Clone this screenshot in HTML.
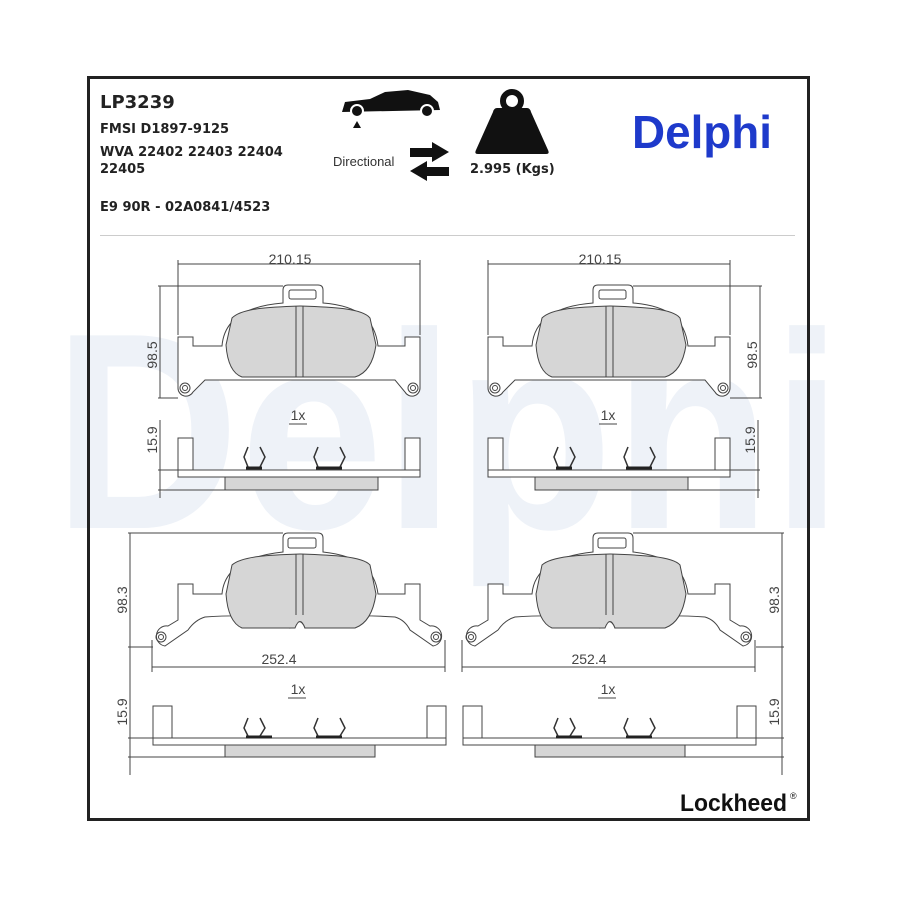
<!DOCTYPE html>
<html><head><meta charset="utf-8"><style>
body{margin:0;background:#fff;}
svg{display:block;font-family:"Liberation Sans",sans-serif;}
.t{font-family:"DejaVu Sans","Liberation Sans",sans-serif;font-weight:bold;fill:#222;}
.d{font-family:"Liberation Sans",sans-serif;font-size:14px;fill:#444;}
</style></head><body>
<svg width="900" height="900" viewBox="0 0 900 900">
<!-- watermark -->
<text x="448" y="528" text-anchor="middle" font-family="Liberation Sans" font-weight="bold" font-size="280" fill="#eef2f8" textLength="790" lengthAdjust="spacingAndGlyphs">Delphi</text>
<rect x="88.5" y="77.5" width="720" height="742" fill="none" stroke="#222" stroke-width="3"/>
<line x1="100" y1="235.5" x2="795" y2="235.5" stroke="#ccc"/>
<text x="100" y="108" class="t" font-size="18">LP3239</text>
<text x="100" y="133" class="t" font-size="13">FMSI D1897-9125</text>
<text x="100" y="156" class="t" font-size="13">WVA 22402 22403 22404</text>
<text x="100" y="173" class="t" font-size="13">22405</text>
<text x="100" y="211" class="t" font-size="13">E9 90R - 02A0841/4523</text>
<!-- car -->
<path d="M342,112 L345,102 L370,99 L385,92 L408,90 L430,95 L438,102 L440,110 L342,112Z" fill="#111"/>
<circle cx="357" cy="111" r="6" fill="#111" stroke="#fff" stroke-width="2"/>
<circle cx="427" cy="111" r="6" fill="#111" stroke="#fff" stroke-width="2"/>
<polygon points="357,121 353,128 361,128" fill="#111"/>
<text x="333" y="166" font-size="13" fill="#333">Directional</text>
<path d="M410,148 H432 V142 L449,152 L432,162 V157 H410Z" fill="#111"/>
<path d="M449,167 H427 V161 L410,171 L427,181 V176 H449Z" fill="#111"/>
<!-- weight -->
<circle cx="512" cy="101" r="9" fill="none" stroke="#111" stroke-width="6"/>
<path d="M497,108 H527 Q530,108 531,112 L548,150 Q550,154 546,154 H478 Q474,154 476,150 L493,112 Q494,108 497,108Z" fill="#111"/>
<text x="470" y="173" class="t" font-size="13">2.995 (Kgs)</text>
<text x="632" y="148" font-family="Liberation Sans" font-weight="bold" font-size="46" fill="#1e3acb" textLength="140" lengthAdjust="spacingAndGlyphs">Delphi</text>
<defs>
<g id="top">
<path d="M178,337 H193 V346 H222 C224,320 245,306 283,303 V290 Q283,285 288,285 H318 Q323,285 323,290 V303 C360,306 375,320 378,346 H405 V337 H420 V388 A8,8 0 0 1 405,392 L395,380 H205 L193,392 A8,8 0 0 1 178,388 Z" fill="#fff" stroke="#444"/>
<rect x="289" y="290" width="27" height="9" rx="2" fill="none" stroke="#444"/>
<path d="M232,318 C242,308 270,307 300,306 C330,307 362,308 370,318 L376,345 Q372,372 355,377 H242 Q228,372 226,345 Z" fill="#d6d6d6" stroke="#444"/>
<line x1="296" y1="306" x2="296" y2="377" stroke="#444"/><line x1="303" y1="306" x2="303" y2="377" stroke="#444"/>
<circle cx="185" cy="388" r="5" fill="none" stroke="#444"/><circle cx="185" cy="388" r="2.5" fill="none" stroke="#444"/>
<circle cx="413" cy="388" r="5" fill="none" stroke="#444"/><circle cx="413" cy="388" r="2.5" fill="none" stroke="#444"/>
<line x1="178" y1="264" x2="420" y2="264" stroke="#444"/>
<line x1="178" y1="260" x2="178" y2="335" stroke="#444"/><line x1="420" y1="260" x2="420" y2="335" stroke="#444"/>
<text x="290" y="264" class="d" text-anchor="middle">210.15</text>
<text x="298" y="420" class="d" text-anchor="middle" font-size="16">1x</text>
<line x1="289" y1="424" x2="307" y2="424" stroke="#444"/>
<rect x="178" y="438" width="15" height="32" fill="#fff" stroke="#444"/>
<rect x="405" y="438" width="15" height="32" fill="#fff" stroke="#444"/>
<rect x="178" y="470" width="242" height="7" fill="#fff" stroke="#444"/>
<rect x="225" y="477" width="153" height="13" fill="#d6d6d6" stroke="#444"/>
<path d="M248,447 L244,457 L248,467 M260,447 L265,457 L260,467 M318,447 L314,457 L318,467 M340,447 L345,457 L340,467" fill="none" stroke="#333" stroke-width="1.5"/>
<line x1="246" y1="468" x2="262" y2="468" stroke="#222" stroke-width="3"/><line x1="316" y1="468" x2="342" y2="468" stroke="#222" stroke-width="3"/>
</g>
<g id="bot">
<path d="M178,584 H193 V594 H222 C224,570 245,556 283,552 V538 Q283,533 288,533 H318 Q323,533 323,538 V552 C360,556 375,570 378,594 H405 V584 H420 V620 L430,626 A8,8 0 0 1 433,646 L410,630 Q405,620 395,617 Q320,612 305,628 Q300,615 290,628 Q280,612 205,617 Q195,620 188,630 L165,646 A8,8 0 0 1 168,626 L178,620 Z" fill="#fff" stroke="#444"/>
<rect x="288" y="538" width="28" height="10" rx="2" fill="none" stroke="#444"/>
<path d="M232,565 C242,556 270,555 300,554 C330,555 362,556 370,565 L376,594 Q372,622 355,628 H305 Q300,615 295,628 H242 Q228,622 226,594 Z" fill="#d6d6d6" stroke="#444"/>
<line x1="296" y1="554" x2="296" y2="615" stroke="#444"/><line x1="303" y1="554" x2="303" y2="615" stroke="#444"/>
<circle cx="161" cy="637" r="5" fill="none" stroke="#444"/><circle cx="161" cy="637" r="2.5" fill="none" stroke="#444"/>
<circle cx="436" cy="637" r="5" fill="none" stroke="#444"/><circle cx="436" cy="637" r="2.5" fill="none" stroke="#444"/>
<line x1="152" y1="667" x2="445" y2="667" stroke="#444"/>
<line x1="152" y1="640" x2="152" y2="672" stroke="#444"/><line x1="445" y1="640" x2="445" y2="672" stroke="#444"/>
<text x="279" y="664" class="d" text-anchor="middle">252.4</text>
<text x="298" y="694" class="d" text-anchor="middle" font-size="16">1x</text>
<line x1="288" y1="698" x2="306" y2="698" stroke="#444"/>
<rect x="153" y="706" width="19" height="32" fill="#fff" stroke="#444"/>
<rect x="427" y="706" width="19" height="32" fill="#fff" stroke="#444"/>
<rect x="153" y="738" width="293" height="7" fill="#fff" stroke="#444"/>
<rect x="225" y="745" width="150" height="12" fill="#d6d6d6" stroke="#444"/>
<path d="M248,718 L244,728 L248,736 M260,718 L265,728 L260,736 M318,718 L314,728 L318,736 M340,718 L345,728 L340,736" fill="none" stroke="#333" stroke-width="1.5"/>
<line x1="246" y1="737" x2="272" y2="737" stroke="#222" stroke-width="3"/><line x1="316" y1="737" x2="342" y2="737" stroke="#222" stroke-width="3"/>
</g>
</defs>
<use href="#top"/>
<use href="#top" transform="translate(310,0)"/>
<use href="#bot"/>
<use href="#bot" transform="translate(310,0)"/>
<g stroke="#444">
<line x1="160" y1="286" x2="160" y2="398"/><line x1="158" y1="286" x2="283" y2="286"/><line x1="158" y1="398" x2="178" y2="398"/>
<line x1="160" y1="420" x2="160" y2="498"/><line x1="158" y1="470" x2="178" y2="470"/><line x1="158" y1="490" x2="225" y2="490"/>
<line x1="760" y1="286" x2="760" y2="398"/><line x1="633" y1="286" x2="762" y2="286"/><line x1="730" y1="398" x2="762" y2="398"/>
<line x1="758" y1="420" x2="758" y2="498"/><line x1="730" y1="470" x2="760" y2="470"/><line x1="688" y1="490" x2="760" y2="490"/>
<line x1="130" y1="533" x2="130" y2="775"/><line x1="128" y1="533" x2="283" y2="533"/><line x1="128" y1="647" x2="153" y2="647"/><line x1="128" y1="738" x2="153" y2="738"/><line x1="128" y1="757" x2="225" y2="757"/>
<line x1="782" y1="533" x2="782" y2="775"/><line x1="633" y1="533" x2="784" y2="533"/><line x1="756" y1="647" x2="784" y2="647"/><line x1="756" y1="738" x2="784" y2="738"/><line x1="685" y1="757" x2="784" y2="757"/>
</g>
<g class="d">
<text transform="translate(157,355) rotate(-90)" text-anchor="middle">98.5</text>
<text transform="translate(157,440) rotate(-90)" text-anchor="middle">15.9</text>
<text transform="translate(757,355) rotate(-90)" text-anchor="middle">98.5</text>
<text transform="translate(755,440) rotate(-90)" text-anchor="middle">15.9</text>
<text transform="translate(127,600) rotate(-90)" text-anchor="middle">98.3</text>
<text transform="translate(127,712) rotate(-90)" text-anchor="middle">15.9</text>
<text transform="translate(779,600) rotate(-90)" text-anchor="middle">98.3</text>
<text transform="translate(779,712) rotate(-90)" text-anchor="middle">15.9</text>
</g>
<text x="680" y="811" font-family="Liberation Sans" font-weight="bold" font-size="24" fill="#111" textLength="107" lengthAdjust="spacingAndGlyphs">Lockheed</text>
<text x="790" y="799" font-size="9" fill="#111">®</text>
</svg>
</body></html>
